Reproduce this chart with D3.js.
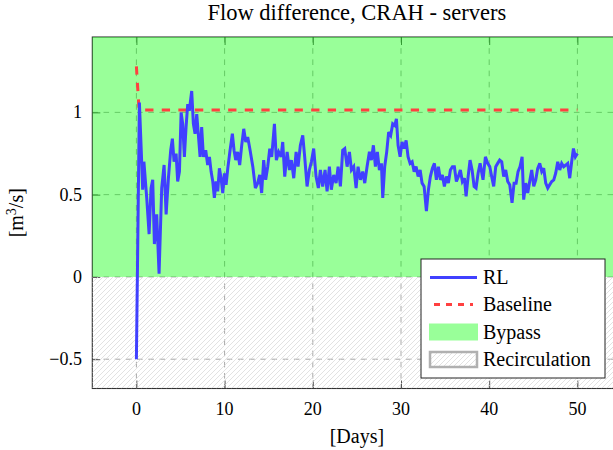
<!DOCTYPE html>
<html>
<head>
<meta charset="utf-8">
<script src="https://cdn.jsdelivr.net/npm/d3@7/dist/d3.min.js"></script>
<style>
  html, body { margin: 0; padding: 0; background: #fff; overflow: hidden; }
  svg { display: block; }
  text { font-family: "Liberation Serif", "DejaVu Serif", serif; fill: #000; }
</style>
</head>
<body>
<svg id="chart" width="613" height="450"></svg>
<script>
// ---------------- DATA ----------------
const title = "Flow difference, CRAH - servers";
const xLabel = "[Days]";
const xTicks = [0, 10, 20, 30, 40, 50];
const yTicks = [-0.5, 0, 0.5, 1];
const seriesNames = ["RL", "Baseline", "Bypass", "Recirculation"];

const days = [0, 0.34, 0.6, 0.71, 0.85, 1.17, 1.44, 1.66, 1.85, 2.04, 2.3, 2.57, 2.87, 3.14, 3.37, 3.63, 3.89, 4.08, 4.27, 4.5, 4.68, 4.88, 5.07, 5.25, 5.44, 5.63, 5.82, 6.0, 6.27, 6.46, 6.65, 6.84, 7.03, 7.22, 7.4, 7.6, 7.86, 8.08, 8.28, 8.47, 8.66, 8.84, 9.03, 9.22, 9.41, 9.6, 9.79, 9.98, 10.17, 10.36, 10.62, 10.88, 11.07, 11.26, 11.48, 11.71, 11.94, 12.17, 12.4, 12.62, 12.89, 13.2, 13.49, 13.75, 13.98, 14.2, 14.43, 14.66, 14.89, 15.12, 15.34, 15.65, 15.87, 16.13, 16.4, 16.59, 16.82, 17.09, 17.35, 17.57, 17.84, 18.11, 18.33, 18.59, 18.86, 19.08, 19.35, 19.61, 19.84, 20.1, 20.37, 20.63, 20.86, 21.12, 21.39, 21.62, 21.88, 22.1, 22.37, 22.64, 22.87, 23.13, 23.39, 23.62, 23.89, 24.15, 24.38, 24.64, 24.91, 25.13, 25.4, 25.66, 25.89, 26.15, 26.42, 26.64, 26.87, 27.1, 27.32, 27.55, 27.78, 27.93, 28.15, 28.38, 28.6, 28.83, 29.06, 29.29, 29.48, 29.67, 29.9, 30.12, 30.35, 30.58, 30.8, 31.03, 31.26, 31.49, 31.71, 31.94, 32.17, 32.39, 32.62, 32.88, 33.11, 33.33, 33.56, 33.79, 34.01, 34.24, 34.47, 34.69, 34.92, 35.15, 35.37, 35.6, 35.83, 36.05, 36.28, 36.51, 36.73, 36.96, 37.19, 37.38, 37.61, 37.83, 38.06, 38.29, 38.51, 38.74, 38.97, 39.3, 39.57, 39.83, 40.06, 40.28, 40.51, 40.74, 40.96, 41.19, 41.42, 41.64, 41.87, 42.1, 42.33, 42.59, 42.82, 43.05, 43.27, 43.5, 43.73, 43.91, 44.14, 44.37, 44.59, 44.82, 45.05, 45.28, 45.5, 45.73, 45.96, 46.18, 46.41, 46.64, 46.86, 47.09, 47.32, 47.54, 47.77, 48.0, 48.22, 48.45, 48.68, 48.9, 49.13, 49.35, 49.55, 49.77, 50.0];

const rl = [-0.50, 1.06, 0.70, 0.53, 0.70, 0.48, 0.26, 0.54, 0.59, 0.20, 0.38, 0.02, 0.54, 0.68, 0.38, 0.60, 0.77, 0.84, 0.70, 0.75, 0.58, 0.64, 1.00, 0.93, 0.73, 0.91, 1.05, 1.01, 1.13, 0.93, 0.87, 0.99, 0.86, 0.73, 0.91, 0.73, 0.77, 0.68, 0.73, 0.64, 0.58, 0.48, 0.58, 0.52, 0.66, 0.60, 0.51, 0.63, 0.56, 0.66, 0.77, 0.87, 0.77, 0.71, 0.76, 0.68, 0.80, 0.90, 0.82, 0.85, 0.77, 0.67, 0.54, 0.57, 0.62, 0.51, 0.71, 0.59, 0.67, 0.78, 0.73, 0.93, 0.71, 0.76, 0.73, 0.82, 0.61, 0.76, 0.65, 0.71, 0.60, 0.76, 0.67, 0.80, 0.86, 0.73, 0.55, 0.65, 0.70, 0.78, 0.61, 0.54, 0.65, 0.55, 0.65, 0.52, 0.67, 0.53, 0.62, 0.57, 0.67, 0.55, 0.77, 0.78, 0.67, 0.76, 0.65, 0.67, 0.54, 0.67, 0.59, 0.64, 0.57, 0.67, 0.76, 0.71, 0.80, 0.67, 0.76, 0.65, 0.69, 0.48, 0.67, 0.76, 0.88, 0.86, 0.93, 0.92, 0.96, 0.80, 0.73, 0.82, 0.78, 0.83, 0.73, 0.69, 0.70, 0.64, 0.67, 0.61, 0.65, 0.57, 0.55, 0.40, 0.53, 0.61, 0.66, 0.69, 0.59, 0.67, 0.59, 0.62, 0.55, 0.61, 0.57, 0.65, 0.67, 0.67, 0.58, 0.61, 0.65, 0.58, 0.60, 0.49, 0.61, 0.71, 0.65, 0.55, 0.54, 0.63, 0.69, 0.59, 0.73, 0.69, 0.67, 0.61, 0.55, 0.67, 0.69, 0.71, 0.70, 0.61, 0.65, 0.58, 0.56, 0.45, 0.57, 0.57, 0.64, 0.67, 0.73, 0.47, 0.57, 0.51, 0.58, 0.65, 0.55, 0.59, 0.66, 0.69, 0.64, 0.66, 0.57, 0.54, 0.56, 0.58, 0.59, 0.63, 0.70, 0.65, 0.69, 0.67, 0.68, 0.69, 0.60, 0.70, 0.78, 0.73, 0.75];

const baselineDays = [0, 0.3, 50];
const baselineVals = [1.28, 1.015, 1.015];

// ---------------- LAYOUT ----------------
const W = 613, H = 450;
const L = 92.3, R = 621.5, T = 37, B = 388.5;
const xDomain = [-5, 55];
const yDomain = [-0.678, 1.458];

const svg = d3.select("#chart");
const x = d3.scaleLinear().domain(xDomain).range([L, R]);
const y = d3.scaleLinear().domain(yDomain).range([B, T]);

const defs = svg.append("defs");
defs.append("clipPath").attr("id", "plotclip")
  .append("rect").attr("x", L).attr("y", T).attr("width", R - L).attr("height", B - T);

const pat = defs.append("pattern").attr("id", "hatch")
  .attr("patternUnits", "userSpaceOnUse").attr("width", 5).attr("height", 5);
pat.append("path").attr("d", "M-1,1 l2,-2 M0,5 l5,-5 M4,6 l2,-2")
  .attr("stroke", "#d6d6d6").attr("stroke-width", 0.7);

// grid
const gridG = svg.append("g").attr("clip-path", "url(#plotclip)");
gridG.selectAll(".gx").data(xTicks).join("line")
  .attr("x1", d => x(d)).attr("x2", d => x(d)).attr("y1", T).attr("y2", B)
  .attr("stroke", "#a8a8a8").attr("stroke-width", 1).attr("stroke-dasharray", "5.6,5.6");
gridG.selectAll(".gy").data(yTicks).join("line")
  .attr("y1", d => y(d)).attr("y2", d => y(d)).attr("x1", L).attr("x2", R)
  .attr("stroke", "#a8a8a8").attr("stroke-width", 1).attr("stroke-dasharray", "5.6,5.6");

// axes with inner ticks on all sides
const tickLen = 8;
const axB = d3.axisBottom(x).tickValues(xTicks).tickSize(-tickLen).tickFormat("");
const axT = d3.axisTop(x).tickValues(xTicks).tickSize(-tickLen).tickFormat("");
const axLft = d3.axisLeft(y).tickValues(yTicks).tickSize(-tickLen).tickFormat("");
const axRgt = d3.axisRight(y).tickValues(yTicks).tickSize(-tickLen).tickFormat("");
function styleAxis(g) {
  g.select(".domain").remove();
  g.selectAll(".tick line").attr("stroke", "#444").attr("stroke-width", 0.9);
}
svg.append("g").attr("transform", `translate(0,${B})`).call(axB).call(styleAxis);
svg.append("g").attr("transform", `translate(0,${T})`).call(axT).call(styleAxis);
svg.append("g").attr("transform", `translate(${L},0)`).call(axLft).call(styleAxis);
svg.append("g").attr("transform", `translate(${R},0)`).call(axRgt).call(styleAxis);

// frame
svg.append("rect").attr("x", L).attr("y", T).attr("width", R - L).attr("height", B - T)
  .attr("fill", "none").attr("stroke", "#333").attr("stroke-width", 1.1);

// regions: bypass (y>0) and recirculation (y<0)
const regionG = svg.append("g").attr("clip-path", "url(#plotclip)");
regionG.append("rect").attr("x", x(xDomain[0])).attr("width", x(xDomain[1]) - x(xDomain[0]))
  .attr("y", y(yDomain[1])).attr("height", y(0) - y(yDomain[1]))
  .attr("fill", "#00ff00").attr("fill-opacity", 0.4);
regionG.append("rect").attr("x", x(xDomain[0])).attr("width", x(xDomain[1]) - x(xDomain[0]))
  .attr("y", y(0)).attr("height", y(yDomain[0]) - y(0))
  .attr("fill", "url(#hatch)");

// lines
const lineG = svg.append("g").attr("clip-path", "url(#plotclip)");
const rlData = days.map((d, i) => [d, rl[i]]);
const blData = baselineDays.map((d, i) => [d, baselineVals[i]]);
const line = d3.line().x(d => x(d[0])).y(d => y(d[1]));
lineG.append("path").datum(blData).attr("d", line)
  .attr("fill", "none").attr("stroke", "#ff4040").attr("stroke-width", 3)
  .attr("stroke-dasharray", "8.3,8.3");
lineG.append("path").datum(rlData).attr("d", line)
  .attr("fill", "none").attr("stroke", "#4040ff").attr("stroke-width", 3)
  .attr("stroke-linejoin", "miter").attr("stroke-miterlimit", 3);

// tick labels
const fmt = d3.format("");
svg.append("g").selectAll("text").data(xTicks).join("text")
  .attr("x", d => x(d)).attr("y", 415).attr("text-anchor", "middle")
  .attr("font-size", 18).text(d => fmt(d));
svg.append("g").selectAll("text").data(yTicks).join("text")
  .attr("x", 82).attr("y", d => y(d)).attr("dy", "0.34em").attr("text-anchor", "end")
  .attr("font-size", 18).text(d => fmt(d));

// title and axis labels
svg.append("text").attr("x", (L + R) / 2).attr("y", 20).attr("text-anchor", "middle")
  .attr("font-size", 22.5).text(title);
svg.append("text").attr("x", (L + R) / 2).attr("y", 443).attr("text-anchor", "middle")
  .attr("font-size", 20).text(xLabel);
const yl = svg.append("text").attr("transform", `translate(23,${(T + B) / 2}) rotate(-90)`)
  .attr("text-anchor", "middle").attr("font-size", 20);
yl.append("tspan").text("[m");
yl.append("tspan").attr("dy", -7).attr("font-size", 14).text("3");
yl.append("tspan").attr("dy", 7).text("/s]");

// legend
const lg = svg.append("g");
lg.append("rect").attr("x", 421).attr("y", 259).attr("width", 184).attr("height", 119)
  .attr("fill", "#fff").attr("stroke", "#222").attr("stroke-width", 1);
const rowY = [277.5, 304.5, 332, 359.5];
const sx0 = 430, sx1 = 477;
lg.append("line").attr("x1", sx0).attr("x2", sx1).attr("y1", rowY[0]).attr("y2", rowY[0])
  .attr("stroke", "#4040ff").attr("stroke-width", 3);
lg.append("line").attr("x1", sx0 + 4).attr("x2", sx1 - 4).attr("y1", rowY[1]).attr("y2", rowY[1])
  .attr("stroke", "#ff4040").attr("stroke-width", 3).attr("stroke-dasharray", "6,6");
lg.append("rect").attr("x", sx0 - 1).attr("y", rowY[2] - 8.5).attr("width", sx1 - sx0 + 2).attr("height", 17)
  .attr("fill", "#00ff00").attr("fill-opacity", 0.4);
lg.append("rect").attr("x", sx0).attr("y", rowY[3] - 7.5).attr("width", sx1 - sx0).attr("height", 15)
  .attr("fill", "url(#hatch)").attr("stroke", "#b0b0b0").attr("stroke-width", 2.5);
lg.selectAll(".lt").data(seriesNames).join("text")
  .attr("x", 483).attr("y", (d, i) => rowY[i]).attr("dy", "0.34em")
  .attr("font-size", 20).text(d => d);
</script>
</body>
</html>
